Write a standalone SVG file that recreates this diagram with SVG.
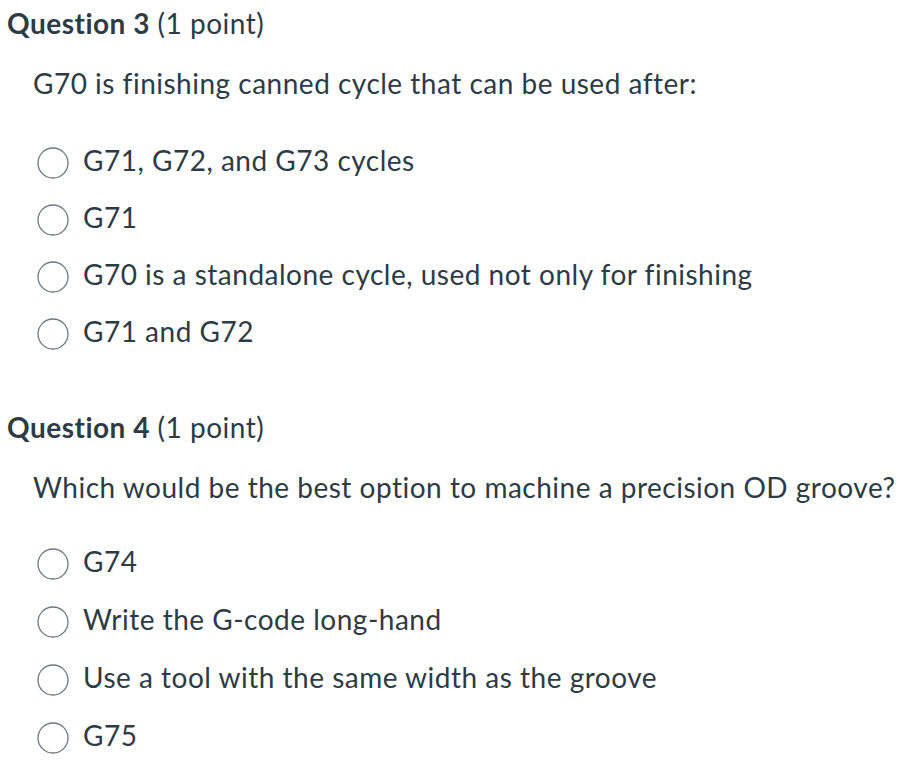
<svg xmlns="http://www.w3.org/2000/svg" width="915" height="774" viewBox="0 0 915 774">
<style>
text{font-family:Lato,"Open Sans",sans-serif;fill:#2d3b45;font-size:28px;letter-spacing:0.5px;font-variant-ligatures:none}
.b{font-weight:bold}
circle{fill:#fff;stroke:#6b7780;stroke-width:1.3}
</style>
<rect width="915" height="774" fill="#fff"/>
<text x="7" y="34"><tspan class="b">Question 3</tspan> (1 point)</text>
<text x="33" y="94">G70 is finishing canned cycle that can be used after:</text>
<circle cx="53" cy="163" r="15"/><text x="83" y="171">G71, G72, and G73 cycles</text>
<circle cx="53" cy="220" r="15"/><text x="83" y="228">G71</text>
<circle cx="53" cy="277" r="15"/><text x="83" y="285">G70 is a standalone cycle, used not only for finishing</text>
<circle cx="53" cy="334" r="15"/><text x="83" y="342">G71 and G72</text>
<text x="7" y="438"><tspan class="b">Question 4</tspan> (1 point)</text>
<text x="33" y="498">Which would be the best option to machine a precision OD groove?</text>
<circle cx="53" cy="564" r="15"/><text x="83" y="572">G74</text>
<circle cx="53" cy="622" r="15"/><text x="83" y="630">Write the G-code long-hand</text>
<circle cx="53" cy="680" r="15"/><text x="83" y="688">Use a tool with the same width as the groove</text>
<circle cx="53" cy="738" r="15"/><text x="83" y="746">G75</text>
</svg>
